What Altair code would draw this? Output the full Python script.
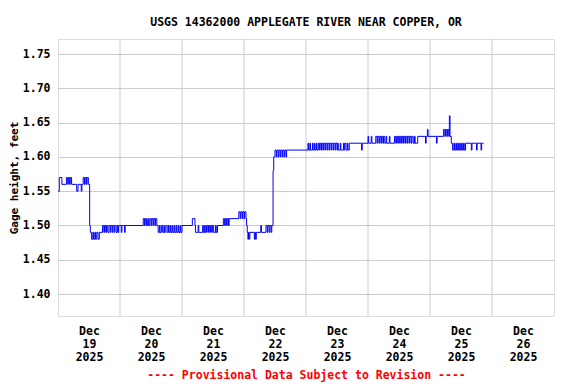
import altair as alt
import pandas as pd

# hours since Dec 19 2025 00:00 (step changes)
hours = [
    0.0, 0.5, 1.5,
    3.25, 3.75, 4.0, 4.5, 4.75, 5.25,
    7.25, 7.75, 9.0, 9.25,
    9.75, 10.25, 10.5, 11.0, 11.25, 11.75,
    12.25, 12.5,
    13.0, 13.5, 13.75, 14.25, 14.5, 15.0, 15.5, 16.0,
    17.25, 17.75, 18.0, 18.5, 18.75, 19.25, 19.75, 20.25, 20.5, 21.0, 21.25, 21.75, 22.0, 22.5, 23.0, 23.25, 23.5,
    24.5, 24.75, 25.75, 26.0,
    33.0, 33.5, 33.75, 34.25, 34.75, 35.0, 35.5, 36.0, 36.25, 36.75, 37.0, 37.5, 37.75, 38.25,
    38.75, 39.25, 39.5, 40.0, 40.5, 41.0, 41.25, 41.75, 42.25, 42.75, 43.0, 43.5, 43.75, 44.25,
    44.5, 45.0, 45.25, 45.75, 46.0, 46.5, 46.75, 47.25, 47.5, 48.0,
    52.0, 53.0, 53.25, 54.25, 54.5, 56.0, 56.25, 56.75, 57.0,
    57.5, 58.0, 58.25, 58.75, 59.0, 59.5, 59.75, 60.25, 61.0, 61.25, 61.75,
    64.0, 64.5, 64.75, 65.25, 65.5, 66.0, 66.25,
    70.0, 70.5, 70.75, 71.25, 71.5, 72.0, 72.25, 72.75,
    73.0, 73.25, 73.5, 73.75, 74.0, 74.25, 76.0, 76.25, 76.5, 76.75,
    78.5, 78.75,
    80.5, 81.0, 81.25, 81.75, 82.0, 82.5, 82.75,
    83.25, 83.5,
    84.0, 84.5, 84.75, 85.25, 85.5, 86.0, 86.25, 86.75, 87.0, 87.5, 87.75, 88.25, 88.5,
    96.75, 97.0, 97.5, 97.75, 98.5, 98.75, 99.25, 99.5, 100.0, 100.25, 100.75, 101.25,
    101.5, 102.0, 102.25, 102.75, 103.0, 103.5, 103.75, 104.25, 104.5, 105.0, 105.25, 105.75,
    106.0, 106.5, 106.75, 107.25, 107.5, 108.0, 108.25, 108.5, 109.25, 109.5, 110.5, 110.75,
    111.0, 111.5, 112.0, 112.25, 112.75,
    117.5, 117.75, 120.0, 120.25, 121.25, 121.5,
    123.0, 123.5, 123.75, 124.25, 124.5, 125.0, 125.25, 125.75, 126.0, 126.5,
    127.0, 127.25, 128.25, 128.5,
    130.25, 130.75, 131.0, 131.5, 131.75, 132.25, 132.5, 133.0, 133.25, 133.75,
    134.0, 134.5, 134.75, 135.25, 135.5, 136.0, 136.25, 136.75, 137.0, 137.5,
    138.0, 138.25, 139.25,
    142.25, 142.5, 143.0, 143.25, 146.5, 146.75,
    149.25, 149.75, 150.0, 150.5, 150.75, 151.25, 151.5, 151.75, 152.25, 152.75,
    153.25, 153.5, 154.0, 154.25, 154.75, 155.0, 155.5, 155.75, 156.25, 156.5, 157.0, 157.25, 157.75,
    160.0, 160.25, 162.0, 162.25, 163.75, 164.0, 164.75,
]

stage = [
    1.55, 1.57, 1.56,
    1.57, 1.56, 1.57, 1.56, 1.57, 1.56,
    1.55, 1.56, 1.55, 1.56,
    1.57, 1.56, 1.57, 1.56, 1.57, 1.56,
    1.50, 1.49,
    1.48, 1.49, 1.48, 1.49, 1.48, 1.49, 1.48, 1.49,
    1.50, 1.49, 1.50, 1.49, 1.50, 1.49, 1.50, 1.49, 1.50, 1.49, 1.50, 1.49, 1.50, 1.49, 1.50, 1.49, 1.50,
    1.49, 1.50, 1.49, 1.50,
    1.51, 1.50, 1.51, 1.50, 1.51, 1.50, 1.51, 1.50, 1.51, 1.50, 1.51, 1.50, 1.51, 1.50,
    1.49, 1.50, 1.49, 1.50, 1.49, 1.50, 1.49, 1.50, 1.49, 1.50, 1.49, 1.50, 1.49, 1.50,
    1.49, 1.50, 1.49, 1.50, 1.49, 1.50, 1.49, 1.50, 1.49, 1.50,
    1.51, 1.50, 1.49, 1.50, 1.49, 1.50, 1.49, 1.50, 1.49,
    1.50, 1.49, 1.50, 1.49, 1.50, 1.49, 1.50, 1.49, 1.50, 1.49, 1.50,
    1.51, 1.50, 1.51, 1.50, 1.51, 1.50, 1.51,
    1.52, 1.51, 1.52, 1.51, 1.52, 1.51, 1.52, 1.51,
    1.50, 1.49, 1.48, 1.49, 1.48, 1.49, 1.48, 1.49, 1.48, 1.49,
    1.50, 1.49,
    1.50, 1.49, 1.50, 1.49, 1.50, 1.49, 1.50,
    1.58, 1.60,
    1.61, 1.60, 1.61, 1.60, 1.61, 1.60, 1.61, 1.60, 1.61, 1.60, 1.61, 1.60, 1.61,
    1.62, 1.61, 1.62, 1.61, 1.62, 1.61, 1.62, 1.61, 1.62, 1.61, 1.62, 1.61,
    1.62, 1.61, 1.62, 1.61, 1.62, 1.61, 1.62, 1.61, 1.62, 1.61, 1.62, 1.61,
    1.62, 1.61, 1.62, 1.61, 1.62, 1.61, 1.62, 1.61, 1.62, 1.61, 1.62, 1.61,
    1.62, 1.61, 1.62, 1.61, 1.62,
    1.61, 1.62, 1.63, 1.62, 1.63, 1.62,
    1.63, 1.62, 1.63, 1.62, 1.63, 1.62, 1.63, 1.62, 1.63, 1.62,
    1.63, 1.62, 1.63, 1.62,
    1.63, 1.62, 1.63, 1.62, 1.63, 1.62, 1.63, 1.62, 1.63, 1.62,
    1.63, 1.62, 1.63, 1.62, 1.63, 1.62, 1.63, 1.62, 1.63, 1.62,
    1.63, 1.62, 1.63,
    1.62, 1.63, 1.64, 1.63, 1.62, 1.63,
    1.64, 1.63, 1.64, 1.63, 1.64, 1.63, 1.66, 1.63, 1.62, 1.61,
    1.62, 1.61, 1.62, 1.61, 1.62, 1.61, 1.62, 1.61, 1.62, 1.61, 1.62, 1.61, 1.62,
    1.61, 1.62, 1.61, 1.62, 1.61, 1.62, 1.62,
]

label_hours = [12, 36, 60, 84, 108, 132, 156, 180]
grid_hours = [24, 48, 72, 96, 120, 144, 168]
y_ticks = [1.40, 1.45, 1.50, 1.55, 1.60, 1.65, 1.70, 1.75]

FONT = "DejaVu Sans Mono"

df = pd.DataFrame({"h": hours, "v": stage})
grid_df = pd.DataFrame({"h": grid_hours})

xscale = alt.Scale(domain=[0, 192], nice=False, zero=False)
yscale = alt.Scale(domain=[1.368, 1.772], nice=False, zero=False)

xaxis = alt.Axis(
    values=label_hours,
    labelExpr="['Dec', toString(floor(datum.value / 24) + 19), '2025']",
    grid=False, ticks=False, domain=False,
    labelFont=FONT, labelFontWeight="bold", labelFontSize=11.5, labelColor="black",
    labelLineHeight=13, labelPadding=9, labelBaseline="top",
    title="---- Provisional Data Subject to Revision ----",
    titleColor="red", titleFont=FONT, titleFontWeight="bold", titleFontSize=11.5,
    titlePadding=7,
)
yaxis = alt.Axis(
    values=y_ticks, format=".2f",
    grid=True, gridColor="#cccccc", gridWidth=1,
    ticks=False, domain=False,
    labelFont=FONT, labelFontWeight="bold", labelFontSize=11.5, labelColor="black",
    labelPadding=8,
    title="Gage height, feet", titleFont=FONT, titleFontWeight="bold",
    titleFontSize=11, titleColor="black", titlePadding=3,
)

grid = alt.Chart(grid_df).mark_rule(color="#cccccc", strokeWidth=1).encode(
    x=alt.X("h:Q", scale=xscale, axis=xaxis)
)

line = alt.Chart(df).mark_line(color="#0000ff", strokeWidth=1, interpolate="step-after").encode(
    x=alt.X("h:Q", scale=xscale, axis=xaxis),
    y=alt.Y("v:Q", scale=yscale, axis=yaxis),
)

chart = alt.layer(grid, line).properties(
    width=496,
    height=277,
    padding={"left": 50, "top": 31, "right": 14, "bottom": 66},
    autosize=alt.AutoSizeParams(type="none"),
    title=alt.TitleParams(
        "USGS 14362000 APPLEGATE RIVER NEAR COPPER, OR",
        font=FONT, fontWeight="bold", fontSize=11.5, color="black",
        anchor="middle", offset=10,
    ),
).configure_view(stroke="black", strokeWidth=1).configure(background="white")

chart.save("out.html", embed_options={"renderer": "svg", "actions": False})
